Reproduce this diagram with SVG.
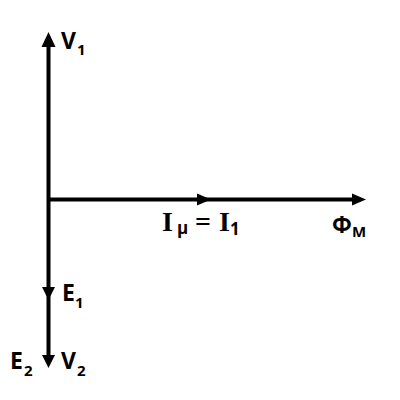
<svg xmlns="http://www.w3.org/2000/svg" width="400" height="400" viewBox="0 0 400 400">
<style>
.ax{stroke:#000;stroke-width:4;fill:none}
.ah{fill:#000}
.lb{font-family:"Open Sans","DejaVu Sans",sans-serif;font-weight:bold;font-size:23px;fill:#000}
.sb{font-family:"Open Sans","DejaVu Sans",sans-serif;font-weight:bold;font-size:15px;fill:#000}
.sm{font-family:"Open Sans","DejaVu Sans",sans-serif;font-weight:bold;font-size:17px;fill:#000}
.sf{font-family:"Liberation Serif","Times New Roman",serif;font-weight:bold;font-size:28px;fill:#000}
</style>
<rect width="400" height="400" fill="#fff"/>
<g id="connectors">
<line class="ax" x1="48.5" y1="40" x2="48.5" y2="360"/>
<line class="ax" x1="48.5" y1="199.5" x2="358" y2="199.5"/>
<polygon class="ah" points="48.5,32 41.5,47 55.5,47"/>
<polygon class="ah" points="197,193.5 211,199.5 197,205.5"/>
<polygon class="ah" points="352,193.5 366,199.5 352,205.5"/>
<polygon class="ah" points="42,287 55,287 48.5,300"/>
<polygon class="ah" points="42,355 55,355 48.5,368"/>
</g>
<g id="V1"><text class="lb" x="61" y="49">V</text><text class="sb" x="77" y="55">1</text></g>
<g id="E1"><text class="lb" x="62" y="301">E</text><text class="sb" x="75" y="308">1</text></g>
<g id="E2"><text class="lb" x="10" y="369">E</text><text class="sb" x="24" y="376">2</text></g>
<g id="V2"><text class="lb" x="61" y="369">V</text><text class="sb" x="77" y="376">2</text></g>
<g id="Imu"><text class="sf" x="162" y="231">I</text><text class="sm" x="177" y="234">μ</text><text class="sf" x="195" y="231">=</text><text class="sf" x="219" y="231">I</text><text class="sm" x="230" y="235">1</text></g>
<g id="PhiM"><text class="lb" x="332" y="233">Φ</text><text class="sb" x="352" y="237">M</text></g>
</svg>
